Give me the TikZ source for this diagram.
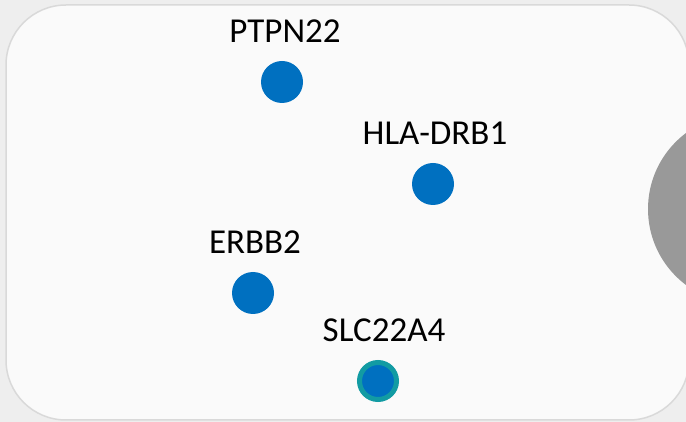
\documentclass[tikz,border=0pt]{standalone}
\usepackage{fontspec}
\setmainfont{Carlito}
\usetikzlibrary{positioning}

\definecolor{geneblue}{HTML}{0070C0}
\definecolor{ringteal}{HTML}{129BA3}
\definecolor{cellgray}{HTML}{999999}
\definecolor{panelfill}{HTML}{FAFAFA}
\definecolor{panelline}{HTML}{D9D9D9}
\definecolor{backfill}{HTML}{EEEEEE}

\begin{document}
\begin{tikzpicture}[x=0.5pt,y=-0.5pt,
    gene/.style={circle,fill=geneblue,minimum size=21pt,inner sep=0pt},
    genering/.style={gene,draw=ringteal,line width=2.5pt,minimum size=18.5pt},
    genelbl/.style={font=\fontsize{17.5}{21}\selectfont,inner sep=0pt}]
  \useasboundingbox[fill=backfill] (0,0) rectangle (686,422);
  % panel and the cell at the right
  \draw[panelline,fill=panelfill,line width=0.75pt,rounded corners=30pt] (6,5) rectangle (689,420);
  \fill[cellgray] (743,209) circle[radius=95];
  % genes
  \node[gene] (ptpn) at (282,82) {};
  \node[gene] (hla) at (433,184) {};
  \node[gene] (erbb) at (253,293) {};
  \node[genering] (slc) at (378,381) {};
  \node[genelbl,above=9pt of ptpn,anchor=base,xshift=1.5pt] (ptpnlbl) {PTPN22};
  \node[genelbl,above=9pt of hla,anchor=base,xshift=1pt] (hlalbl) {HLA-DRB1};
  \node[genelbl,above=9pt of erbb,anchor=base,xshift=1pt] (erbblbl) {ERBB2};
  \node[genelbl,above=9pt of slc,anchor=base,xshift=3pt] (slclbl) {SLC22A4};
\end{tikzpicture}
\end{document}
